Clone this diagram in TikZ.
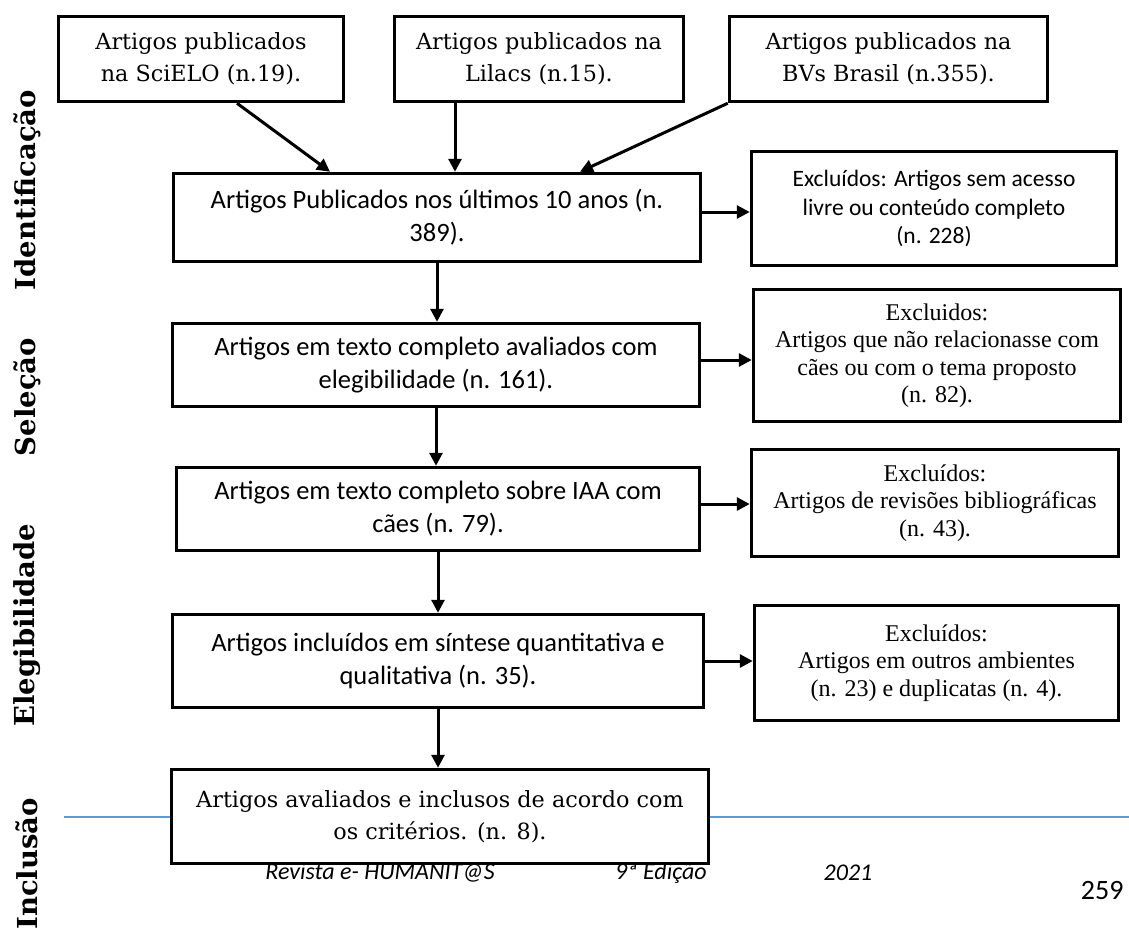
\documentclass[tikz,border=0pt]{standalone}
\usepackage{fontspec}
\setmainfont{Carlito}
\newfontfamily\cambfont{DejaVu Serif}
\newfontfamily\timesfont{Liberation Serif}
\usepackage{tikz}
\usetikzlibrary{arrows.meta}
\tikzset{>={Triangle[length=13pt,width=13pt]}}
\definecolor{ruleblue}{RGB}{91,155,213}

\begin{document}
\begin{tikzpicture}
    [
      x=1pt, y=-1pt,
      box/.style={draw, line width=3.5pt, fill=white, inner sep=0pt, align=center},
      calibox/.style={box, font=\fontsize{26.5}{33}\selectfont},
      smallcalibox/.style={box, font=\fontsize{23.5}{28.5}\selectfont},
      cambbox/.style={box, font=\cambfont\fontsize{22.3}{32}\selectfont},
      timesbox/.style={box, font=\timesfont\fontsize{24}{27.5}\selectfont},
      phase/.style={rotate=90, font=\cambfont\bfseries\fontsize{27.5}{30}\selectfont},
      footer/.style={font=\itshape\fontsize{24}{28}\selectfont},
      arr/.style={->, draw, line width=3pt}
    ]
    \useasboundingbox [fill=white] (0,0) rectangle (1129,935);

    % phase labels
    \node (ident) [phase] at (27,190) {Identificação};
    \node (selec) [phase] at (27,397) {Seleção};
    \node (elegi) [phase] at (27,625) {Elegibilidade};
    \node (inclu) [phase] at (27,864) {Inclusão};

    % page footer
    \coordinate (rule-l) at (64,817);
    \coordinate (rule-r) at (1129,817);
    \draw [ruleblue, line width=1.5pt] (rule-l) -- (rule-r);
    \node (journal) [footer] at (380,873) {Revista e- HUMANIT@S};
    \node (edition) [footer] at (661,873) {9ª Edição};
    \node (year) [footer] at (848,873) {2021};
    \node (page) [anchor=east, font=\fontsize{28}{32}\selectfont] at (1127,890) {259};

    \node (scielo) [cambbox, minimum width=285pt, minimum height=85pt] at (201,59) {Artigos publicados\\na SciELO (n.19).};
    \node (lilacs) [cambbox, minimum width=289pt, minimum height=85pt] at (539,59) {Artigos publicados na\\Lilacs (n.15).};
    \node (bvs) [cambbox, minimum width=318pt, minimum height=85pt] at (888.5,59) {Artigos publicados na\\BVs Brasil (n.355).};

    \node (ultimos) [calibox, minimum width=527pt, minimum height=88pt] at (437,217.5) {Artigos Publicados nos últimos 10 anos (n.\\389).};
    \node (excl-acesso) [smallcalibox, minimum width=365pt, minimum height=114pt] at (934,208.5) {Excluídos: Artigos sem acesso\\livre ou conteúdo completo\\(n. 228)};

    \node (avaliados) [calibox, minimum width=527pt, minimum height=83pt] at (436,365) {Artigos em texto completo avaliados com\\elegibilidade (n. 161).};
    \node (excl-tema) [timesbox, minimum width=367pt, minimum height=132pt] at (937,355.5) {Excluidos:\\Artigos que não relacionasse com\\cães ou com o tema proposto\\(n. 82).};

    \node (iaa) [calibox, minimum width=523pt, minimum height=83pt] at (438,509) {Artigos em texto completo sobre IAA com\\cães (n. 79).};
    \node (excl-revisao) [timesbox, minimum width=367pt, minimum height=107pt] at (935,503) {Excluídos:\\Artigos de revisões bibliográficas\\(n. 43).};

    \node (sintese) [calibox, minimum width=531pt, minimum height=93pt] at (438,661) {Artigos incluídos em síntese quantitativa e\\qualitativa (n. 35).};
    \node (excl-amb) [timesbox, minimum width=364pt, minimum height=115pt] at (936.5,663) {Excluídos:\\Artigos em outros ambientes\\(n. 23) e duplicatas (n. 4).};

    \node (inclusos) [cambbox, minimum width=537pt, minimum height=94pt] at (440,816.5) {Artigos avaliados e inclusos de acordo com\\os critérios. (n. 8).};

    \draw [arr] ([xshift=36pt]scielo.south) -- ([xshift=-107pt]ultimos.north);
    \draw [arr] ([xshift=-84pt]lilacs.south) -- ([xshift=-84pt]lilacs.south |- ultimos.north);
    \draw [arr] (bvs.south west) -- ([xshift=143pt]ultimos.north);

    \draw [arr] ([yshift=5.5pt]ultimos.east) -- ([yshift=5.5pt]ultimos.east -| excl-acesso.west);
    \draw [arr] (ultimos.south) -- (ultimos.south |- avaliados.north);
    \draw [arr] ([yshift=5pt]avaliados.east) -- ([yshift=5pt]avaliados.east -| excl-tema.west);
    \draw [arr] (avaliados.south) -- (avaliados.south |- iaa.north);
    \draw [arr] ([yshift=5pt]iaa.east) -- ([yshift=5pt]iaa.east -| excl-revisao.west);
    \draw [arr] (iaa.south) -- (iaa.south |- sintese.north);
    \draw [arr] (sintese.east) -- (sintese.east -| excl-amb.west);
    \draw [arr] (sintese.south) -- (sintese.south |- inclusos.north);
  \end{tikzpicture}
\end{document}
